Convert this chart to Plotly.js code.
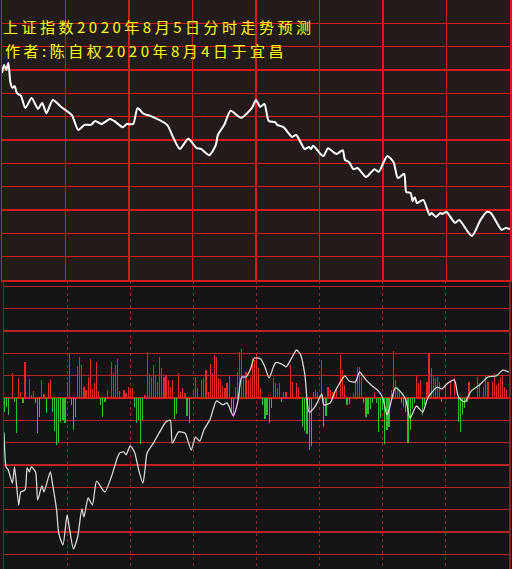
<!DOCTYPE html>
<html>
<head>
<meta charset="utf-8">
<script src="https://cdn.plot.ly/plotly-3.0.1.min.js"></script>
<style>
html,body{margin:0;padding:0;background:#141416;}
#chart{width:512px;height:569px;}
.gtitle, .annotation-text{letter-spacing:3.5px;}
</style>
</head>
<body>
<div id="chart"></div>
<script>
// ---- data (minutes from 9:30, trading minutes 0..240) ----
const titleLine1 = '上证指数2020年8月5日分时走势预测';
const titleLine2 = '作者:陈自权2020年8月4日于宜昌';

const topTime = [0,1,2,3,4,5,6,7,9,11,14,17,19,21,24,28,33,36,39,42,44,47,51,53,57,59,62,64,67,70,
  78,81,84,88,92,94,98,101,102,105,108,113,118,120,122,124,126,129,130,133,137,139,143,145,146,147,151,152,154,158,
  161,162,164,166,168,172,176,178,182,185,187,190,191,193,194,195,196,199,202,203,205,207,208,210,214,216,222,226,229,231,
  236,238,240];
const topPrice = [3387.2,3389.3,3388.0,3389.8,3384.7,3383.4,3383.9,3382.1,3381.3,3378.2,3380.8,3378.0,3379.5,3376.9,3380.3,3378.5,3376.4,3372.6,3373.9,3373.9,
  3374.9,3374.1,3375.4,3374.9,3373.3,3374.1,3374.1,3378.2,3376.7,3376.2,3373.9,3370.5,3367.7,3370.3,3367.9,3367.7,3366.1,3368.7,3371.3,3373.9,
  3377.5,3375.7,3378.2,3380.3,3378.5,3379.3,3374.9,3374.6,3373.9,3373.3,3370.8,3371.3,3367.7,3368.2,3367.7,3368.5,3366.1,3365.9,3367.9,3366.4,
  3367.4,3364.9,3364.3,3362.5,3362.8,3360.5,3362.5,3361.8,3365.9,3364.3,3360.2,3361.3,3356.6,3356.4,3354.3,3355.3,3353.8,3354.6,3350.7,3351.2,
  3350.2,3351.2,3351.0,3351.5,3348.7,3349.4,3345.3,3349.4,3351.5,3351.2,3346.9,3347.4,3347.1];

const barTime = [
  0,1,2,4,5,6,7,8,9,10,
  12,13,14,15,16,17,18,19,20,21,
  22,23,24,25,26,27,28,29,30,31,
  32,33,34,35,36,37,38,39,40,41,
  42,43,44,45,46,47,48,49,51,52,
  53,54,55,57,58,59,60,61,62,63,
  64,65,66,67,68,69,70,71,72,73,
  74,75,76,77,78,79,80,81,82,83,
  84,85,86,87,88,90,91,92,94,95,
  96,97,98,99,100,101,102,103,104,105,
  106,107,108,109,110,111,112,113,114,115,
  116,117,118,119,120,121,122,123,124,125,
  126,127,128,129,130,131,132,133,134,136,
  137,139,140,142,143,144,145,146,147,148,
  149,151,152,153,154,155,156,157,158,160,
  161,162,163,164,166,167,168,169,170,171,
  172,173,174,175,176,177,178,179,180,181,
  182,183,184,185,186,187,188,189,190,191,
  192,193,194,195,196,197,198,199,200,201,
  202,203,204,205,206,207,208,210,212,214,
  216,217,218,219,220,221,225,226,228,229,
  230,232,233,234,235,236,237,238,239];
const barValue = [
  -0.61,-0.39,-0.76,1.1,-0.16,-1.58,0.88,0.28,-0.24,1.63,
  0.84,0.13,0.33,-0.24,-1.55,-0.84,0.8,0.18,-0.69,0.66,
  0.8,-0.61,-1.46,-2.1,-1.96,-1.06,-0.99,-1.13,0.73,2.03,
  -0.31,-1.43,-0.84,1.43,1.85,1.48,0.5,0.36,0.93,1.73,
  0.39,0.69,1.63,0.33,-0.31,-0.84,-0.16,0.36,1.63,1.1,
  1.48,1.73,0.33,0.36,0.21,0.5,0.43,0.43,-0.39,-1.13,
  -0.99,-2.06,-0.99,0.13,2.07,1.07,0.96,1.48,1.03,0.73,
  1.82,1.33,0.96,1.03,0.8,0.5,0.8,-0.95,-0.7,1.1,
  0.28,0.43,0.21,-0.81,-1.1,0.36,0.96,0.43,0.8,0.88,
  1.25,0.28,1.52,1.1,1.93,1.85,0.88,0.84,0.54,0.43,
  0.69,1.03,-0.66,-0.76,0.5,1.18,2.07,2.18,0.96,1.18,
  0.8,0.88,1.78,1.7,2.0,1.33,0.43,-0.31,-0.96,-0.76,
  -1.1,-0.46,0.88,0.66,0.43,0.69,-0.16,0.28,0.28,1.48,
  0.73,0.66,0.48,-1.3,-1.46,-1.61,-2.33,-2.15,0.28,0.36,
  0.28,1.7,-1.28,-0.8,0.5,0.36,0.28,0.24,0.5,1.93,
  1.25,0.58,-0.31,-0.28,0.21,0.73,1.4,1.4,0.96,-0.24,
  -0.84,-0.7,-0.5,-0.24,0.28,-0.24,-1.51,-0.91,-0.54,-2.06,
  -1.43,-1.3,0.36,2.12,0.81,0.51,0.36,-0.24,-0.39,-0.61,
  -2.03,-1.45,-0.5,-0.24,1.03,0.66,0.81,-0.76,-0.3,0.73,
  2.03,1.33,1.03,0.88,0.96,0.73,-0.2,0.58,0.73,0.88,
  -1.06,-1.51,-0.76,-0.46,-0.2,0.73,0.96,0.66,0.51,1.03,
  0.73,0.73,1.1,0.58,0.66,0.93,1.03,0.51,0.36];

const lowTime = [
  0,1,2,4,5,7,8,10,11,12,
  13,15,16,18,19,22,23,25,26,28,
  30,31,33,35,37,38,40,42,44,47,
  48,51,54,55,57,58,60,62,64,66,
  67,68,71,74,77,79,80,83,86,87,
  89,91,93,95,98,101,104,106,109,111,
  113,115,117,119,122,124,126,129,132,134,
  137,139,141,143,145,148,151,152,155,157,
  159,162,164,167,169,172,175,178,180,182,
  183,186,189,191,193,196,199,201,203,206,
  208,211,214,216,219,222,226,230,234,237,
  240];
const lowValue = [
  -1.55,-3.09,-3.22,-3.81,-3.09,-4.79,-4.21,-4.12,-3.13,-3.31,
  -3.09,-3.31,-4.57,-3.94,-4.21,-3.31,-3.81,-5.02,-6.05,-6.58,
  -5.24,-5.78,-6.76,-6.22,-4.97,-5.33,-4.48,-4.79,-3.72,-4.12,
  -4.21,-3.54,-2.64,-2.46,-2.42,-2.55,-2.15,-2.42,-3.22,-3.81,
  -3.22,-2.46,-2.02,-1.52,-1.07,-0.99,-2.02,-1.52,-1.57,-1.79,
  -2.33,-1.75,-1.93,-1.43,-0.94,-0.13,-0.31,-0.22,-0.81,-0.22,
  0.94,0.94,1.25,1.79,1.75,1.39,0.9,1.57,1.52,1.39,
  1.84,2.15,1.93,1.03,-0.63,-0.36,0.18,-0.31,-0.22,0.22,
  0.58,0.99,0.76,0.72,1.16,0.81,0.54,0.31,0,-0.76,
  -0.54,0.45,0.22,-0.09,-0.9,-0.36,-0.63,-0.09,0.22,0.49,
  0.4,0.67,0.81,0.04,-0.18,0.31,0.58,0.94,0.99,1.25,
  1.16];

// ---- styles ----
const W = 512, H = 569;
const topBottomPx = 280, lowTopPx = 281;
const gridRed = 'rgb(215,25,25)';
const titleFont = {family:'"Noto Sans CJK SC", sans-serif', size:15, color:'#ffff00'};

// split the bars by sign so each set has one colour
const upT = [], upV = [], dnT = [], dnV = [];
barValue.forEach((v, i) => { if (v >= 0) { upT.push(barTime[i]); upV.push(v); } else { dnT.push(barTime[i]); dnV.push(v); } });

const traces = [
  {type:'scatter', mode:'lines', x: topTime, y: topPrice, xaxis:'x', yaxis:'y',
   line:{color:'#ffffff', width:2, shape:'spline', smoothing:0.6}, hoverinfo:'skip'},
  {type:'bar', x: upT, y: upV, xaxis:'x2', yaxis:'y2', width:0.55,
   marker:{color:'rgb(225,40,40)', line:{width:0}}, hoverinfo:'skip'},
  {type:'bar', x: dnT, y: dnV, xaxis:'x2', yaxis:'y2', width:0.55,
   marker:{color:'rgb(50,185,50)', line:{width:0}}, hoverinfo:'skip'},
  {type:'scatter', mode:'lines', x: lowTime, y: lowValue, xaxis:'x2', yaxis:'y2',
   line:{color:'rgb(215,215,215)', width:1.3, shape:'spline', smoothing:0.6}, hoverinfo:'skip'}
];

const layout = {
  width: W, height: H,
  margin:{l:0, r:0, t:0, b:0, pad:0},
  paper_bgcolor:'rgb(20,20,22)',
  plot_bgcolor:'rgba(0,0,0,0)',
  showlegend:false,
  barmode:'overlay',
  bargap:0,
  font:{family:'"Noto Sans CJK SC", sans-serif'},
  title:{text: titleLine1, x: 3/W, xanchor:'left', xref:'container',
         y: 1 - 28/H, yanchor:'middle', yref:'container', font: titleFont},
  annotations:[{text: titleLine2, xref:'paper', yref:'paper', x: 3/W, y: 1 - 50/H,
    xanchor:'left', yanchor:'middle', showarrow:false, font: titleFont}],
  xaxis:{domain:[2/W, 510/W], range:[0,240], tick0:0, dtick:30, showgrid:true,
    gridcolor:gridRed, gridwidth:1.5, showticklabels:false, ticks:'', zeroline:false,
    showline:true, mirror:true, linecolor:gridRed, linewidth:1.5, anchor:'y', fixedrange:true},
  yaxis:{domain:[1 - topBottomPx/H, 1], range:[3334,3406], tick0:3334, dtick:6, showgrid:true,
    gridcolor:gridRed, gridwidth:1.5, showticklabels:false, ticks:'', zeroline:false,
    showline:true, mirror:true, linecolor:gridRed, linewidth:1.5, anchor:'x', fixedrange:true},
  xaxis2:{domain:[4/W, 509/W], range:[0,240], tick0:0, dtick:30, showgrid:true,
    gridcolor:'rgb(125,40,40)', griddash:'dot', gridwidth:1, showticklabels:false, ticks:'',
    zeroline:false, showline:false, anchor:'y2', fixedrange:true},
  yaxis2:{domain:[0, 1 - lowTopPx/H], range:[-7.66, 5.24], tick0:0, dtick:1, showgrid:true,
    gridcolor:'rgb(185,35,35)', gridwidth:1.4, showticklabels:false, ticks:'',
    zeroline:true, zerolinecolor:'rgb(215,30,30)', zerolinewidth:1.6,
    showline:true, mirror:true, linecolor:'rgb(120,40,40)', linewidth:1.5, anchor:'x2', fixedrange:true},
  shapes:[
    {type:'rect', xref:'paper', yref:'paper', x0:0, x1:510/W, y0:1 - topBottomPx/H, y1:1,
     fillcolor:'rgb(34,27,25)', line:{width:0}, layer:'below'}
  ]
};

Plotly.newPlot('chart', traces, layout, {staticPlot:true, displayModeBar:false});
</script>
</body>
</html>
